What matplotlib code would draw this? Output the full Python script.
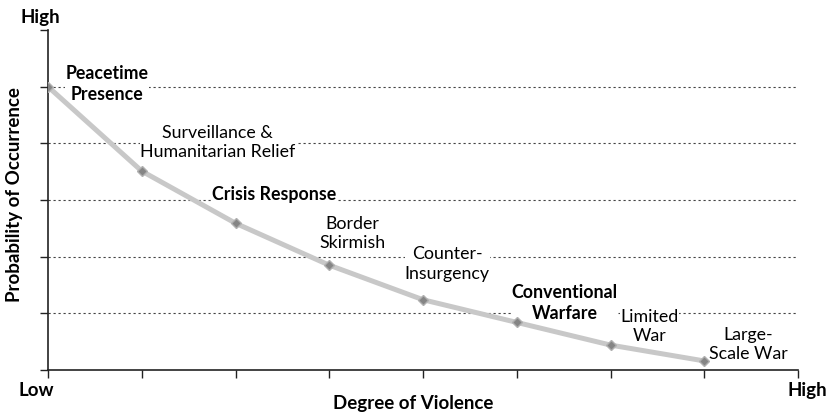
import matplotlib
matplotlib.use("Agg")
import matplotlib.pyplot as plt

# Data
x_pos = [0, 1, 2, 3, 4, 5, 6, 7]
probability = [5.0, 3.51, 2.59, 1.85, 1.24, 0.84, 0.44, 0.16]
labels = ["Peacetime\nPresence", "Surveillance &\nHumanitarian Relief", "Crisis Response",
          "Border\nSkirmish", "Counter-\nInsurgency", "Conventional\nWarfare",
          "Limited\nWar", "Large-\nScale War"]
label_x = [0.63, 1.81, 2.41, 3.25, 4.26, 5.51, 6.42, 7.47]
label_y = [5.05, 4.02, 3.09, 2.41, 1.87, 1.18, 0.77, 0.45]
label_bold = [True, False, True, False, False, True, False, False]
grid_levels = [1, 2, 3, 4, 5]

FONT = ["Lato", "DejaVu Sans"]
plt.rcParams['font.family'] = FONT

fig = plt.figure(figsize=(8.34, 4.15), dpi=100)
ax = fig.add_axes([48/834, 45/415, 750/834, 340/415])
ax.set_xlim(0, 8)
ax.set_ylim(0, 6)

for g in grid_levels:
    ax.axhline(g, color="#444444", lw=0.8, ls=(0, (2, 2.5)), zorder=1)

ax.plot(x_pos, probability, color="#c8c8c8", lw=3.6, zorder=3, solid_capstyle="round")
ax.plot(x_pos, probability, ls="none", marker="D", ms=5.5, mfc="#858585", mec="#b0b0b0", mew=1.0, zorder=4)

for lx, ly, t, b in zip(label_x, label_y, labels, label_bold):
    ax.text(lx, ly, t, ha="center", va="center", fontsize=12.8,
            fontweight="bold" if b else "normal", color="#000000", linespacing=1.25,
            bbox=dict(facecolor="white", edgecolor="none", pad=0.3), zorder=2)

ax.set_xticks(range(0, 9))
ax.set_yticks(range(0, 7))
ax.set_xticklabels([])
ax.set_yticklabels([])
ax.tick_params(axis="both", direction="out", length=6, width=1.0, color="#222222")
for s in ["top", "right"]:
    ax.spines[s].set_visible(False)
for s in ["left", "bottom"]:
    ax.spines[s].set_linewidth(1.2)
    ax.spines[s].set_color("#222222")

AX_FS = 13.5
fig.text(40/834, 1 - 17/415, "High", fontsize=AX_FS, fontweight="bold", ha="center", va="center")
fig.text(36/834, 1 - 390/415, "Low", fontsize=AX_FS, fontweight="bold", ha="center", va="center")
fig.text(807/834, 1 - 390/415, "High", fontsize=AX_FS, fontweight="bold", ha="center", va="center")
fig.text(413/834, 1 - 403/415, "Degree of Violence", fontsize=AX_FS, fontweight="bold", ha="center", va="center")
fig.text(15/834, 1 - 195/415, "Probability of Occurrence", fontsize=AX_FS, fontweight="bold",
         ha="center", va="center", rotation=90)

fig.savefig("out.png", dpi=100)
